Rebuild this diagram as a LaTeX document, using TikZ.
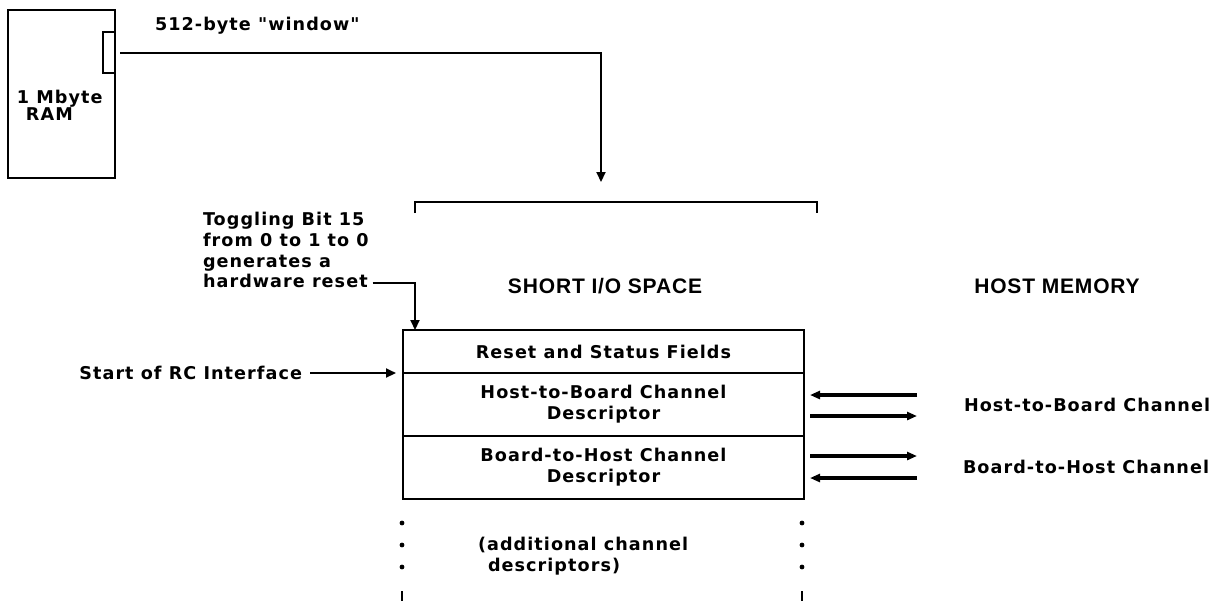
\documentclass[tikz,border=0pt]{standalone}
\usepackage{fontspec}
\newfontfamily\typefont[LetterSpace=6]{DejaVu Sans}
\newfontfamily\headfont[LetterSpace=4]{Liberation Sans}
\usetikzlibrary{arrows.meta}
\newcommand{\bodyfont}{\typefont\bfseries\fontsize{8.8}{10.3}\selectfont}
\newcommand{\headingfont}{\headfont\bfseries\fontsize{10.5}{11}\selectfont}
\tikzset{
  every node/.style={font=\bodyfont,inner sep=0pt,outer sep=0pt},
  field/.style={draw,line width=1pt,minimum width=200.5pt,align=center},
  flow/.style={line width=1pt,-{Triangle[length=5pt,width=4.5pt]}},
  bus/.style={line width=2pt,-{Triangle[length=5pt,width=4pt]}},
  heading/.style={font=\headingfont},
  note/.style={align=left}
}
\begin{document}
\begin{tikzpicture}[x=.5pt,y=-.5pt]

\path[use as bounding box] (0,0) rectangle (1215,602);
% RAM board and its window into the short I/O space
\node[draw,line width=1pt,minimum width=53.5pt,minimum height=84pt] (ram) at (61.5,94) {};
\node[draw,line width=1pt,minimum width=6pt,minimum height=20.5pt] (win) at (109,52.5) {};
\node[note,anchor=north west] (ramtext) at (17,90) {1 Mbyte\\[-1.5pt]\hspace*{4.5pt}RAM};
\node[anchor=west] (wintext) at (155,26) {512-byte "window"};
\coordinate (wintip) at (601,182);
\draw[flow] ([xshift=2.5pt]win.east) -| (wintip);
\draw[line width=1pt] (415,213) -- (415,202) -- (817,202) -- (817,213);

\node[heading] (sio) at (605,286) {SHORT I/O SPACE};
\node[heading] (hostmem) at (1057,286) {HOST MEMORY};

\node[field,minimum height=21.5pt] (reset) at (603.5,351.5) {Reset and Status Fields};
\node[field,minimum height=31.5pt] (hbd) at (603.5,404.5) {Host-to-Board Channel\\[.2pt]Descriptor};
\node[field,minimum height=31.5pt] (bhd) at (603.5,467.5) {Board-to-Host Channel\\[.2pt]Descriptor};

\node[note,anchor=south west] (toggle) at (203,288) {Toggling Bit 15\\from 0 to 1 to 0\\generates a\\hardware reset};
\draw[flow] ([xshift=2pt,yshift=2.5pt]toggle.south east) -| ([xshift=6pt]reset.north west);
\node[anchor=east] (start) at (302,373) {Start of RC Interface};
\draw[flow,shorten <=4pt,shorten >=3.5pt] (start.east) -- (reset.south west);

% channel traffic between host memory and the descriptors
\coordinate (hbin) at (917,395);
\coordinate (hbout) at (917,416);
\coordinate (bhout) at (917,456);
\coordinate (bhin) at (917,478);
\draw[bus,shorten >=3pt] (hbin) -- (hbin -| hbd.east);
\draw[bus,shorten <=3pt] (hbout -| hbd.east) -- (hbout);
\draw[bus,shorten <=3pt] (bhout -| bhd.east) -- (bhout);
\draw[bus,shorten >=3pt] (bhin) -- (bhin -| bhd.east);
\node[anchor=west] (hbch) at (964,405) {Host-to-Board Channel};
\node[anchor=west] (bhch) at (963,467) {Board-to-Host Channel};

\foreach \y in {523,545,567} {
  \fill (402,\y) circle (1.2pt);
  \fill (802,\y) circle (1.2pt);
}
\foreach \x in {402,802}
  \draw[line width=1pt] (\x,591) -- (\x,601);
\node[note,anchor=north west] (more) at (478,537) {(additional channel\\[.5pt]\hspace*{5pt}descriptors)};
\end{tikzpicture}
\end{document}
